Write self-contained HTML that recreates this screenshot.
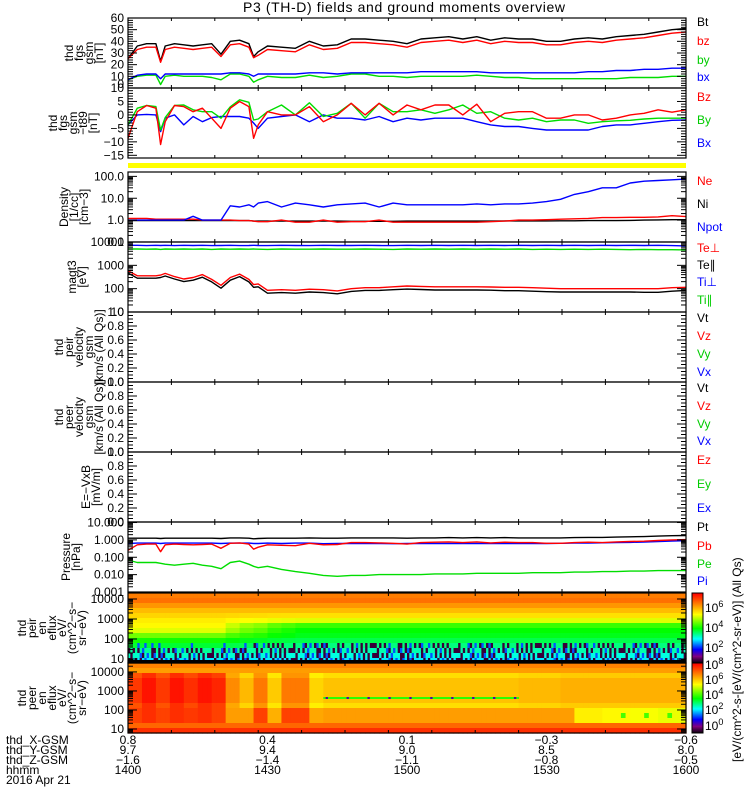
<!DOCTYPE html>
<html><head><meta charset="utf-8"><title>P3 (TH-D) overview</title>
<style>
html,body{margin:0;padding:0;background:#fff;}
svg{display:block;font-family:"Liberation Sans",sans-serif;}
text{font-size:12px;fill:#000;}
</style></head>
<body>
<svg id="chart" width="750" height="800" viewBox="0 0 750 800" xmlns="http://www.w3.org/2000/svg">
<rect x="0" y="0" width="750" height="800" fill="#fff"/>
<text x="243" y="12" font-size="14" textLength="322" style="font-size:14px">P3 (TH-D) fields and ground moments overview</text>
<rect x="128" y="163" width="558" height="5" fill="#ffff00"/>
<g id="spec"></g>
<g id="lines"></g>
<g id="axes"></g>
<g id="labels"></g>
</svg>
<script>
// ---------- data ----------
const T = [0,2,4,6,7,8,10,12,14,16,18,20,22,24,26,27,28,30,33,36,39,42,45,48,51,54,57,60,63,66,69,72,75,78,81,84,87,90,93,96,99,102,105,108,111,114,117,120];
const fgsBt = [25,36,38,38,23,36,38,37,36,37,38,29,40,41,38,27,31,36,35,34,40,36,37,42,42,41,40,38,42,43,44,42,44,41,43,42,42,40,40,42,43,42,44,45,46,48,50,51];
const fgsBz = [25,33,35,35,22,33,35,34,33,34,35,27,37,38,35,26,28,33,32,31,37,33,34,39,39,38,37,35,39,40,41,39,41,38,40,39,39,37,37,39,40,39,41,42,43,45,47,48];
const fgsBy = [7,10,11,11,3,10,11,10,10,10,9,7,12,12,10,5,7,10,9,9,11,9,10,12,12,10,10,9,10,10,10,10,11,10,9,9,8,8,8,8,8,8,8,9,9,9,10,10];
const fgsBx = [7,11,12,12,8,12,12,12,12,12,12,12,13,13,12,10,12,12,12,12,13,13,12,13,13,13,13,13,14,14,14,14,14,13,13,13,13,13,13,13,14,14,15,15,16,16,17,17];
const dBz = [-8.7,1.2,3.5,2.5,-11,-2.5,3.5,3.1,1.2,2.5,-1.2,-5,2.5,5,3.1,-8.7,-3.7,1.2,0,0,3.1,-2.5,0,4.3,0,4.3,0,3.7,1.9,3.7,3.7,0,4,-2.5,0.6,1.2,1.2,-1.2,-1.2,0,0,-1.9,-1.2,0,0.6,1.9,1,1.9];
const dBy = [-3.7,2.5,3.5,3.1,-5.6,-1,3.5,3.7,1.9,1.2,1.2,-1.2,3,5.6,4.7,-1.9,-1.5,1.2,3.7,0,4.5,-0.6,0.6,4.3,-1.2,4.3,1.2,1.2,1.9,0.6,1.9,3.7,0.6,1.2,-1.2,-1.9,-1.2,-2.5,-1.9,-1.9,-3.1,-2.5,-2.2,-2,-1.5,-1.2,-1.2,-1.2];
const dBx = [-3.7,0,0.2,0,-6.2,-1.2,0,-3.7,-0.6,-2.5,-1,-0.6,-0.6,-0.6,-1.2,-3,-5,-1.2,-0.6,0,-2.5,0,-1.2,-1.2,-1.9,-0.6,-2.5,-1.2,-1.9,-1.2,-1.2,-1.2,-2.5,-3.7,-4.3,-4.3,-5,-5.6,-5.6,-5.6,-5.6,-4.3,-3.7,-3.7,-3.1,-2.5,-2,-1.9];
const denNpot = [1,1,1,1,1,1,1,1,1.5,1,1,1,4.5,4,5,4,6,7,4,6,5,4,5,5.5,6,4,6,5,5,5,5,5,5.5,5,5.5,5.5,6,7,9,15,20,30,30,50,60,65,70,75];
const denNe = [1.2,1.2,1.2,1.1,1.1,1.1,1.1,1.1,1.1,1.0,1.0,1.0,1.0,0.95,0.95,0.9,0.85,0.85,1.0,0.8,0.8,1.0,0.8,0.85,0.85,1.0,0.8,0.8,0.8,0.8,0.8,0.8,0.8,0.85,0.9,1.0,1.0,1.05,1.1,1.15,1.2,1.3,1.3,1.35,1.35,1.4,1.6,1.45];
const denNi = [0.95,0.95,0.95,0.95,0.95,0.95,0.95,0.95,0.95,0.95,0.95,0.95,0.95,0.95,0.95,0.9,0.9,0.9,0.9,0.9,0.9,0.9,0.9,0.88,0.88,0.88,0.88,0.9,0.9,0.9,0.9,0.9,0.9,0.9,0.92,0.92,0.92,0.92,0.93,0.93,0.95,0.95,0.95,0.97,1.0,1.02,1.05,1.05];
const tePerp = [590,355,355,355,380,450,330,260,300,400,250,140,300,420,250,150,160,85,90,85,95,90,80,100,110,110,120,130,125,120,120,120,120,118,115,115,110,105,100,100,100,100,100,100,100,100,110,115];
const tePar = [470,280,280,280,300,350,260,200,230,310,195,105,230,330,195,115,120,64,68,64,72,68,60,76,84,84,90,96,92,88,88,88,88,86,82,82,78,74,72,72,72,72,72,72,70,70,78,84];
const tiPerp = [7200,7200,7000,7200,7100,7200,7000,7200,7100,7200,7000,7100,7200,7000,7100,7200,7100,7000,7200,7100,7000,7200,7100,7100,7200,7100,7000,7200,7100,7200,7100,7200,7100,7200,7100,7200,7100,7200,7100,7200,7100,7200,7100,7200,7100,7200,7000,6800];
const tiPar = [5000,5000,4900,5000,4800,5000,4900,5000,4900,5000,4800,5000,4900,5000,4900,5000,4900,4800,5000,4900,4900,5000,4900,4900,5000,4900,4800,5000,4900,5000,4900,5000,4900,5000,4900,5000,4800,4900,4800,4900,4800,4900,4800,4700,4800,4700,4700,4600];
const prPt = [1.25,1.25,1.25,1.25,1.2,1.25,1.25,1.25,1.25,1.25,1.25,1.2,1.3,1.3,1.25,1.15,1.2,1.25,1.25,1.25,1.3,1.25,1.25,1.3,1.3,1.3,1.3,1.25,1.3,1.3,1.35,1.3,1.35,1.3,1.35,1.3,1.3,1.3,1.3,1.35,1.4,1.4,1.45,1.5,1.55,1.65,1.75,1.8];
const prPb = [0.25,0.52,0.57,0.57,0.21,0.52,0.57,0.54,0.52,0.54,0.57,0.33,0.64,0.67,0.57,0.29,0.38,0.52,0.49,0.46,0.64,0.52,0.54,0.70,0.70,0.67,0.64,0.57,0.70,0.74,0.77,0.70,0.77,0.67,0.74,0.70,0.70,0.64,0.64,0.70,0.74,0.70,0.77,0.81,0.84,0.92,1.0,1.04];
const prPe = [0.07,0.05,0.05,0.05,0.045,0.04,0.035,0.04,0.045,0.035,0.03,0.022,0.05,0.06,0.04,0.03,0.025,0.03,0.02,0.015,0.012,0.009,0.008,0.009,0.009,0.01,0.01,0.01,0.01,0.011,0.011,0.011,0.012,0.012,0.012,0.012,0.013,0.013,0.013,0.014,0.014,0.015,0.015,0.016,0.016,0.017,0.017,0.017];
const prPi = [0.62,0.65,0.65,0.65,0.62,0.65,0.65,0.65,0.65,0.65,0.65,0.62,0.65,0.65,0.65,0.62,0.62,0.65,0.62,0.65,0.65,0.6,0.62,0.62,0.62,0.62,0.6,0.62,0.62,0.62,0.62,0.62,0.62,0.62,0.62,0.62,0.62,0.62,0.64,0.65,0.66,0.68,0.7,0.72,0.76,0.8,0.85,0.9];

// spectrogram data (log10 flux), 14 energy channels top(high E) -> bottom(low E), 40 time bins of 3 min
const ionEarly = [6.5,6.6,6.3,6.0,5.8,5.6,5.5,5.3,4.7,4.2,3.9,3.5,3.3,3.0];
const ionLate  = [6.5,6.6,6.3,6.0,5.7,5.3,4.4,4.1,4.0,3.8,3.6,3.4,3.2,3.0];
const ionMix = [0,0,0,0,0,0,0,0.3,0.5,0.6,0.8,0.9,1,1,1,1,1,1,1,1,1,1,1,1,1,1,1,1,1,1,1,1,1,1,1,1,1,1,1,1];
const ionNoise = "10200110010210001200101100201001020110001021001100201010012001100210010";
const elBase = [7.1,6.8,6.6,6.5,6.6,6.6,6.7,6.6,6.5,6.4,6.4,6.5,7.4,8.0];
const elMid = [7.9,8.3,7.9,8.3,8.0,8.3,8.1,7.0,6.5,7.2,6.3,7.2,7.2,6.2,6.4,6.4,6.4,6.4,6.4,6.4,6.4,6.4,6.4,6.4,6.4,6.4,6.4,6.4,6.5,6.5,6.5,6.6,6.6,6.6,6.6,6.6,6.6,6.6,6.6,6.6];
const elLow = [7.8,8.0,7.8,8.0,7.9,8.0,7.8,6.8,6.8,7.8,6.6,7.8,7.8,6.7,6.8,6.8,6.8,6.8,6.8,6.8,6.8,6.8,6.8,6.8,6.8,6.8,6.8,6.8,6.8,6.8,6.8,6.8,5.9,5.9,5.8,5.8,5.7,5.7,5.6,5.6];
const elLine = [0,0,0,0,0,0,0,0,0,0,0,0,0,0,4.2,4.2,4.2,4.2,4.2,4.2,4.2,4.2,4.2,4.2,4.2,4.2,4.2,4.2,0,0,0,0,0,0,0,0,0,0,0,0];

const hhmmLabels = ["1400","1430","1500","1530","1600"];
const xLabels = ["0.8","0.4","0.1","-0.3","-0.6"];
const yLabels = ["9.7","9.4","9.0","8.5","8.0"];
const zLabels = ["-1.6","-1.4","-1.1","-0.8","-0.5"];

// ---------- helpers ----------
const NS = "http://www.w3.org/2000/svg";
function mk(tag, attrs, parent){ const e=document.createElementNS(NS,tag); for(const k in attrs) e.setAttribute(k,attrs[k]); parent.appendChild(e); return e; }
const X0=128, X1=686;
function xs(t){ return X0 + t/120*(X1-X0); }
const panels = [
 {top:18,bot:88,log:false,min:0,max:60},
 {top:88,bot:158,log:false,min:-16,max:10},
 {top:172,bot:242,log:true,min:-1,max:2.2},
 {top:242,bot:312,log:true,min:1,max:4},
 {top:312,bot:382,log:false,min:0,max:1},
 {top:382,bot:452,log:false,min:0,max:1},
 {top:452,bot:522,log:false,min:0,max:1},
 {top:522,bot:592,log:true,min:-3,max:1.03},
 {top:593,bot:663,log:true,min:0.8,max:4.3},
 {top:663,bot:733,log:true,min:0.79,max:4.47}
];
function ys(p, v){ const u = p.log ? Math.log10(v) : v; return p.bot - (u-p.min)/(p.max-p.min)*(p.bot-p.top); }
function cmap(l){
  l=Math.max(0,Math.min(1,l));
  const st=[[0,0,0,0],[0.1,128,0,128],[0.2,0,0,255],[0.35,0,255,255],[0.5,0,255,0],[0.7,255,255,0],[0.85,255,128,0],[1,255,0,0]];
  for(let i=1;i<st.length;i++){ if(l<=st[i][0]){ const a=st[i-1],b=st[i],f=(l-a[0])/(b[0]-a[0]); return `rgb(${Math.round(a[1]+f*(b[1]-a[1]))},${Math.round(a[2]+f*(b[2]-a[2]))},${Math.round(a[3]+f*(b[3]-a[3]))})`; } }
  return "rgb(255,0,0)";
}
const gL=document.getElementById('lines'), gA=document.getElementById('axes'), gT=document.getElementById('labels'), gS=document.getElementById('spec');

// ---------- spectrograms ----------
function drawSpec(p, fn, lmin, lmax, name, fineFrom){
  const h=(p.bot-p.top)/14;
  for(let c=0;c<14;c++){
    const nb = c>=fineFrom ? 240 : 120;
    const dt = 120/nb;
    for(let m=0;m<nb;m++){
      const t=m*dt;
      const v=fn(t,c,m);
      const r=mk('rect',{x:xs(t).toFixed(2),y:(p.top+c*h).toFixed(2),width:(xs(t+dt)-xs(t)+0.6).toFixed(2),height:(h+0.6).toFixed(2),fill:cmap((v-lmin)/(lmax-lmin))},gS);
      
      
    }
  }
}
drawSpec(panels[8], function(t,c,m){
  const b=Math.min(39,Math.floor(t/3)), w=ionMix[b];
  let v=ionEarly[c]*(1-w)+ionLate[c]*w;
  if(c>=10 && c<=13){ const k=ionNoise[(m*13+c*29)%ionNoise.length]; if(k==='1' && (c>=11 || w>0.5)) v=1.0; else if(k==='2') v=2.4; }
  return v;
},0.7,7.5,'ion-spectrogram',10);
{
  const r=mk('rect',{x:X0,y:660,width:X1-X0,height:3,fill:'#000'},gS);
  
  
}
drawSpec(panels[9], function(t,c,m){
  const b=Math.min(39,Math.floor(t/3));
  let v=elBase[c];
  if(c>=2 && c<=8) v=elMid[b]-(c===2||c===8?0.3:0);
  if(c>=9 && c<=11) v=elLow[b];
  if(c===10 && b>=34 && (m%5===1)) v=4.4;
  return v;
},-0.7,8.5,'electron-spectrogram',99);
// thin electron line
for(let m=0;m<240;m++){
  const t=m*0.5, b=Math.min(39,Math.floor(t/3));
  if(elLine[b]>0){
    const v = (m%9===4) ? 0.5 : elLine[b];
    const r=mk('rect',{x:xs(t).toFixed(2),y:697,width:(xs(t+0.5)-xs(t)+0.5).toFixed(2),height:2,fill:cmap((v+0.7)/9.2)},gS);
    
    
  }
}

// ---------- colorbars ----------
function drawBar(top,bot,name){
  for(let y=top;y<bot;y++){
    const r=mk('rect',{x:692,y:y,width:11,height:1.2,fill:cmap((bot-y)/(bot-top))},gS);
    
    
  }
  const f=mk('rect',{x:692,y:top,width:11,height:bot-top,fill:'none',stroke:'#000','stroke-width':1},gS);
  
  
}
drawBar(593,663,'ion-colorbar');
drawBar(663,733,'electron-colorbar');
function powLabel(y,e,name){
  const t=mk('text',{x:705,y:y},gT);
  
  
  t.textContent='10';
  const s=mk('tspan',{dy:-5,'font-size':'9'},t); s.textContent=e; s.style.fontSize='9px';
}
[[612,'6'],[632,'4'],[652,'2']].forEach(a=>powLabel(a[0],a[1],'ion-colorbar-tick'));
[[669,'8'],[684,'6'],[699,'4'],[714,'2'],[730,'0']].forEach(a=>powLabel(a[0],a[1],'electron-colorbar-tick'));
{
  const t=mk('text',{x:0,y:0,transform:'translate(741,762) rotate(-90)','font-size':'12'},gT);
  
  
  t.textContent='[eV/(cm^2-s-[eV/(cm^2-sr-eV)] (All Qs)';
}

// ---------- series lines ----------
function line(pi, vals, color, name){
  const p=panels[pi];
  let d='';
  for(let i=0;i<T.length;i++){ d+=(i?'L':'M')+xs(T[i]).toFixed(1)+','+ys(p,vals[i]).toFixed(1); }
  const e=mk('path',{d:d,fill:'none',stroke:color,'stroke-width':1.4,'stroke-linejoin':'round'},gL);
  
  
}
line(0,fgsBy,'#00dd00','fgs-by-line'); line(0,fgsBx,'#0000ff','fgs-bx-line'); line(0,fgsBt,'#000','fgs-bt-line'); line(0,fgsBz,'#ff0000','fgs-bz-line');
line(1,dBx,'#0000ff','dfgs-bx-line'); line(1,dBy,'#00dd00','dfgs-by-line'); line(1,dBz,'#ff0000','dfgs-bz-line');
line(2,denNi,'#000','density-ni-line'); line(2,denNe,'#ff0000','density-ne-line'); line(2,denNpot,'#0000ff','density-npot-line');
line(3,tiPar,'#00dd00','temp-tipar-line'); line(3,tiPerp,'#0000ff','temp-tiperp-line'); line(3,tePar,'#000','temp-tepar-line'); line(3,tePerp,'#ff0000','temp-teperp-line');
line(7,prPe,'#00dd00','pressure-pe-line'); line(7,prPt,'#000','pressure-pt-line'); line(7,prPi,'#0000ff','pressure-pi-line'); line(7,prPb,'#ff0000','pressure-pb-line');

// ---------- axes ----------
function tick(x1,y1,x2,y2,name){ const e=mk('line',{x1:x1,y1:y1,x2:x2,y2:y2,stroke:'#000','stroke-width':1},gA);
  
   }
function ylab(y,s,name){ const t=mk('text',{x:124,y:y+4,'text-anchor':'end'},gT);
  
  
  t.textContent=s; }
panels.forEach((p,i)=>{
  const fr=mk('rect',{x:X0,y:p.top,width:X1-X0,height:p.bot-p.top,fill:'none',stroke:'#000','stroke-width':1.2},gA);
  
  
  for(let k=1;k*43.4<X1-X0-2;k++){ const x=X0+k*43.4; tick(x,p.top,x,p.top+3,'x-tick'); tick(x,p.bot,x,p.bot-3,'x-tick'); }
  if(p.log){
    for(let d=Math.floor(p.min);d<=Math.ceil(p.max);d++){
      for(let m=1;m<10;m++){ const u=d+Math.log10(m); if(u<p.min||u>p.max) continue; const y=p.bot-(u-p.min)/(p.max-p.min)*(p.bot-p.top); const L=m===1?9:5; tick(X0,y,X0+L,y,'y-tick'); tick(X1,y,X1-L,y,'y-tick'); }
    }
  } else {
    const step=(p.max-p.min)>=50?2:((p.max-p.min)>=20?1:0.05);
    const maj=(p.max-p.min)>=50?10:((p.max-p.min)>=20?5:0.2);
    for(let v=Math.ceil(p.min/step)*step; v<=p.max+1e-9; v+=step){ const y=ys(p,v); const isM=Math.abs(v/maj-Math.round(v/maj))<1e-6; const L=isM?9:5; tick(X0,y,X0+L,y,'y-tick'); tick(X1,y,X1-L,y,'y-tick'); }
  }
});
// tick labels
[0,10,20,30,40,50,60].forEach(v=>ylab(Math.min(ys(panels[0],v),84),String(v),'fgs-y-label'));
[10,5,0,-5,-10,-15].forEach(v=>ylab(ys(panels[1],v),v<0?'\u2212'+(-v):String(v),'dfgs-y-label'));
[[0.1,'0.1'],[1,'1.0'],[10,'10.0'],[100,'100.0']].forEach(a=>ylab(ys(panels[2],a[0]),a[1],'density-y-label'));
[[10,'10'],[100,'100'],[1000,'1000'],[10000,'10000']].forEach(a=>ylab(ys(panels[3],a[0]),a[1],'temp-y-label'));
[4,5,6].forEach(pi=>{['0.0','0.2','0.4','0.6','0.8','1.0'].forEach(s=>ylab(ys(panels[pi],parseFloat(s)),s,'velocity-y-label'));});
[[0.001,'0.001'],[0.01,'0.010'],[0.1,'0.100'],[1,'1.000'],[10,'10.000']].forEach(a=>ylab(ys(panels[7],a[0]),a[1],'pressure-y-label'));
[8,9].forEach(pi=>{[[10,'10'],[100,'100'],[1000,'1000'],[10000,'10000']].forEach(a=>ylab(ys(panels[pi],a[0]),a[1],'spectrogram-y-label'));});

// bottom time axis labels
const rows=[["thd_X-GSM",xLabels,744],["thd_Y-GSM",yLabels,754],["thd_Z-GSM",zLabels,764],["hhmm",hhmmLabels,774]];
rows.forEach(r=>{
  const t=mk('text',{x:6,y:r[2]},gT);
  
  
  t.textContent=r[0];
  r[1].forEach((s,i)=>{ const e=mk('text',{x:xs(i*30),y:r[2],'text-anchor':'middle'},gT);
    
    
    e.textContent=s.replace('-','\u2212'); });
});
{
  const t=mk('text',{x:6,y:784},gT);
  
  
  t.textContent='2016 Apr 21';
}

// left rotated panel titles
const leftTitles=[
 [0,['thd','fgs','gsm','[nT]'],68],
 [1,['thd','fgs','gsm','\u2212t89','[nT]'],52],
 [2,['Density','[1/cc]','[cm\u22123]'],63],
 [3,['magt3','[eV]'],71],
 [4,['thd','peir','velocity','gsm','[km/s (All Qs)]'],58],
 [5,['thd','peer','velocity','gsm','[km/s (All Qs)]'],58],
 [6,['E=\u2212VxB','[mV/m]'],85],
 [7,['Pressure','[nPa]'],65],
 [8,['thd','peir','en','eflux','eV/','(cm^2\u2212s\u2212','sr\u2212eV)'],21],
 [9,['thd','peer','en','eflux','eV/','(cm^2\u2212s\u2212','sr\u2212eV)'],21]
];
leftTitles.forEach(a=>{
  const p=panels[a[0]], cy=(p.top+p.bot)/2;
  a[1].forEach((s,i)=>{ const x=a[2]+i*10+5;
    const t=mk('text',{x:0,y:0,'text-anchor':'middle',transform:`translate(${x},${cy}) rotate(-90)`},gT);
    
    
    t.textContent=s; });
});

// right legends
const legends=[
 ['Bt','#000',26],['bz','#ff0000',45],['by','#00cc00',64],['bx','#0000ff',81],
 ['Bz','#ff0000',101],['By','#00cc00',124],['Bx','#0000ff',147],
 ['Ne','#ff0000',185],['Ni','#000',208],['Npot','#0000ff',231],
 ['Te\u22a5','#ff0000',252],['Te\u2225','#000',269],['Ti\u22a5','#0000ff',286],['Ti\u2225','#00cc00',304],
 ['Vt','#000',322],['Vz','#ff0000',340],['Vy','#00cc00',358],['Vx','#0000ff',376],
 ['Vt','#000',392],['Vz','#ff0000',410],['Vy','#00cc00',428],['Vx','#0000ff',445],
 ['Ez','#ff0000',464],['Ey','#00cc00',488],['Ex','#0000ff',512],
 ['Pt','#000',531],['Pb','#ff0000',550],['Pe','#00cc00',568],['Pi','#0000ff',585]
];
legends.forEach(l=>{ const t=mk('text',{x:697,y:l[2],fill:l[1]},gT);
  
  
  t.style.fill=l[1];
  t.textContent=l[0]; });
</script>
</body></html>
